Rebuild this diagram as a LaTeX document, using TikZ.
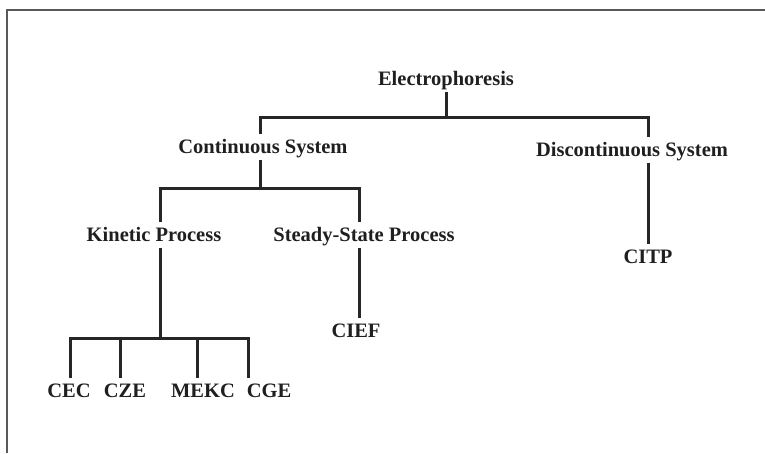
\documentclass[tikz,border=0pt]{standalone}
\usepackage{fontspec}
\setmainfont{Liberation Serif}
\usetikzlibrary{positioning}

\begin{document}
\begin{tikzpicture}[x=1pt,y=-1pt,
    every node/.style={font=\fontsize{20.5}{24}\selectfont\bfseries,text=black!88,anchor=base,inner sep=3pt,text height=16pt,text depth=4pt},
    link/.style={line width=3pt,black!85}]
  \useasboundingbox (0,0) rectangle (765,453);
  % frame
  \draw[line width=2pt,black!65] (7,453) -- (7,10) -- (765,10);
  % nodes
  \node (elec) at (446,85) {Electrophoresis};
  \node (cont) at (263,153) {Continuous System};
  \node (disc) at (632,156) {Discontinuous System};
  \node (kin) at (154,241) {Kinetic Process};
  \node (steady) at (364,241) {Steady-State Process};
  \node (cief) at (356,337) {CIEF};
  \node (citp) at (648,263) {CITP};
  \node (cec) at (69,397) {CEC};
  \node (cze) at (125,397) {CZE};
  \node (mekc) at (203,397) {MEKC};
  \node (cge) at (269,397) {CGE};
  % junctions
  \coordinate (ja) at (446,117);
  \coordinate (jal) at (260,117);
  \coordinate (jar) at (648,117);
  \coordinate (jb) at (260,188);
  \coordinate (jbl) at (160,188);
  \coordinate (jbr) at (359,188);
  \coordinate (jc) at (160,338);
  \coordinate (jc1) at (70,338);
  \coordinate (jc2) at (120,338);
  \coordinate (jc3) at (197,338);
  \coordinate (jc4) at (248,338);
  % connectors
  \draw[link] (elec) -- (elec |- ja);
  \draw[link,line cap=rect] (jal) -- (jar);
  \draw[link] (jal) -- (jal |- cont.north);
  \draw[link] (jar) -- (jar |- disc.north);
  \draw[link] (jb |- cont.south) -- (jb);
  \draw[link,line cap=rect] (jbl) -- (jbr);
  \draw[link] (jbl) -- (jbl |- kin.north);
  \draw[link] (jbr) -- (jbr |- steady.north);
  \draw[link] (jbr |- steady.south) -- (jbr |- cief.north);
  \draw[link] (jar |- disc.south) -- (citp);
  \draw[link] (jc |- kin.south) -- (jc);
  \draw[link,line cap=rect] (jc1) -- (jc4);
  \draw[link] (jc1) -- (jc1 |- cec.north);
  \draw[link] (jc2) -- (jc2 |- cze.north);
  \draw[link] (jc3) -- (jc3 |- mekc.north);
  \draw[link] (jc4) -- (jc4 |- cge.north);
\end{tikzpicture}
\end{document}
